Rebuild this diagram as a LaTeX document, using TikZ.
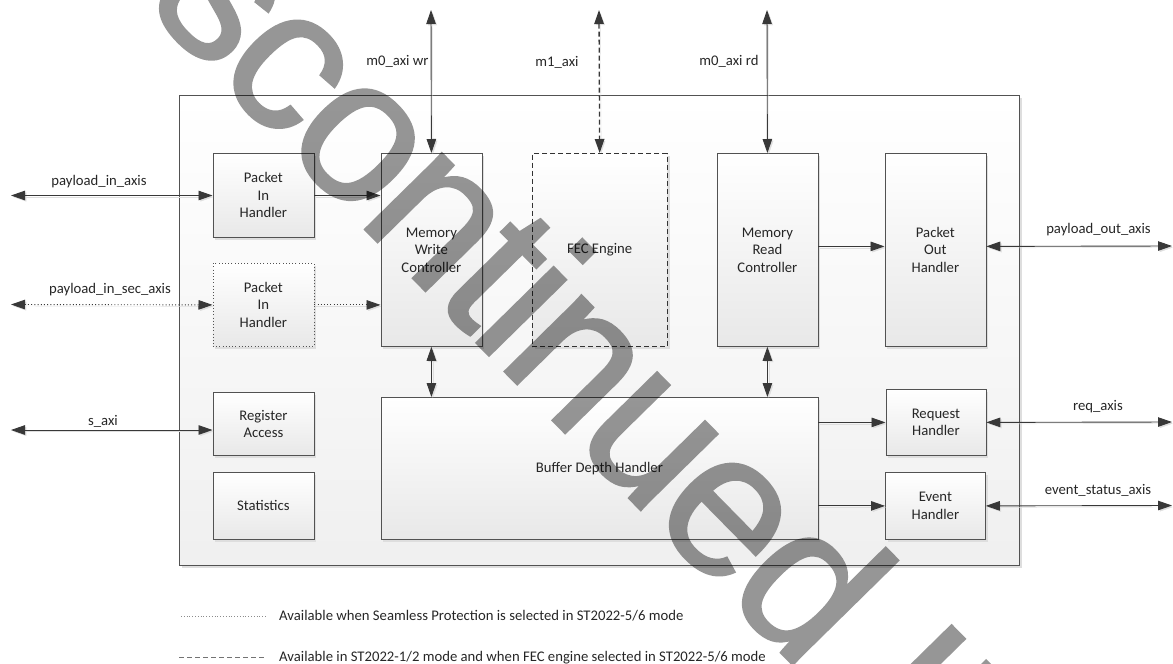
\documentclass[tikz,border=0pt]{standalone}
\usepackage{fontspec}
\setmainfont{Carlito}
\newfontfamily\wmfont[LetterSpace=-2.8,FakeBold=1]{Liberation Sans}
\usetikzlibrary{arrows.meta,shadows,calc}

\tikzset{
  >={Triangle[length=14pt,width=9.5pt]},
  lbl/.style={font=\fontsize{14.7}{17.5}\selectfont, text=black!85, inner sep=0pt},
  blk/.style={draw=black!68, line width=0.8pt, top color=white, bottom color=black!9,
    anchor=north west, inner sep=0pt, align=center,
    font=\fontsize{14.7}{17.5}\selectfont, text=black!85,
    drop shadow={shadow xshift=2.5pt, shadow yshift=-2.5pt, fill=black!13, opacity=1}},
  conn/.style={draw=black!78, line width=0.9pt,
    preaction={draw=black!13, transform canvas={shift={(1.5pt,-1.5pt)}}}},
  dotline/.style={dash pattern=on 1pt off 2.2pt},
  dashline/.style={dash pattern=on 5pt off 3pt, line width=1.3pt},
}

\begin{document}
\begin{tikzpicture}[x=1pt,y=-1pt]
\useasboundingbox (0,0) rectangle (1173,664);

% core outline
\node[blk, top color=white, bottom color=black!6, minimum width=840pt, minimum height=470pt] (core) at (179,95) {};

% left column
\node[blk, dotted, dash pattern=on 1pt off 2.2pt, minimum width=101pt, minimum height=83pt] (pihs) at (212.5,263) {Packet\\In\\Handler};
\node[blk, minimum width=101pt, minimum height=84pt] (pih) at (212.5,153) {Packet\\In\\Handler};
\node[blk, minimum width=101pt, minimum height=63pt] (reg) at (212.5,392) {Register\\Access};
\node[blk, minimum width=101pt, minimum height=67pt] (stat) at (212.5,472) {Statistics};

% memory controllers and FEC
\node[blk, minimum width=101pt, minimum height=193pt] (mwc) at (380.5,153) {Memory\\Write\\Controller};
\node[blk, dash pattern=on 5pt off 3pt, line width=1.3pt, draw=black!80, minimum width=135pt, minimum height=193pt] (fec) at (531.5,153) {FEC Engine};
\node[blk, minimum width=101pt, minimum height=193pt] (mrc) at (716.5,153) {Memory\\Read\\Controller};
\node[blk, minimum width=101pt, minimum height=193pt] (poh) at (884.5,153) {Packet\\Out\\Handler};

% buffer and handlers
\node[blk, minimum width=437pt, minimum height=142pt] (bdh) at (380.5,397) {Buffer Depth Handler};
\node[blk, minimum width=100pt, minimum height=66pt] (req) at (885.5,389) {Request\\Handler};
\node[blk, minimum width=100pt, minimum height=67pt] (evt) at (885,472) {Event\\Handler};

% external ends
\coordinate (pinA) at (11,195.5);
\coordinate (pinB) at (11,304.5);
\coordinate (sax) at (11,430);
\coordinate (mwr) at (431,10);
\coordinate (m1) at (599,10);
\coordinate (mrd) at (767,10);
\coordinate (pout) at (1172,246);
\coordinate (rq) at (1172,422);
\coordinate (ev) at (1172,505.5);

% connectors
\draw[conn,<->] (pinA) -- (pinA -| pih.west);
\draw[conn,->] (pinA -| pih.east) -- (pinA -| mwc.west);
\draw[conn,dotline,<->] (pinB) -- (pihs.west);
\draw[conn,dotline,->] (pihs.east) -- (pihs.east -| mwc.west);
\draw[conn,<->] (sax) -- (sax -| reg.west);
\draw[conn,<->] (mwr) -- (mwc.north);
\draw[conn,dashline,<->] (m1) -- (fec.north);
\draw[conn,<->] (mrd) -- (mrc.north);
\draw[conn,->] ([yshift=3.5pt]mrc.east) -- ([yshift=3.5pt]poh.west);
\draw[conn,<->] ([yshift=3.5pt]poh.east) -- (pout);
\draw[conn,<->] (mwc.south) -- (mwc.south |- bdh.north);
\draw[conn,<->] (mrc.south) -- (mrc.south |- bdh.north);
\draw[conn,->] (req.west -| bdh.east) -- (req.west);
\draw[conn,->] (evt.west -| bdh.east) -- (evt.west);
\draw[conn,<->] (req.east) -- (rq);
\draw[conn,<->] (evt.east) -- (ev);

% interface names
\node[lbl, anchor=base] (l1) at (99,185) {payload\_in\_axis};
\node[lbl, anchor=base] (l2) at (110,293) {payload\_in\_sec\_axis};
\node[lbl, anchor=base] (l3) at (103,425) {s\_axi};
\node[lbl, anchor=base] (l4) at (397.5,65) {m0\_axi wr};
\node[lbl, anchor=base] (l5) at (557,66) {m1\_axi};
\node[lbl, anchor=base] (l6) at (729,65) {m0\_axi rd};
\node[lbl, anchor=base] (l7) at (1098.5,233) {payload\_out\_axis};
\node[lbl, anchor=base] (l8) at (1098,410) {req\_axis};
\node[lbl, anchor=base] (l9) at (1098,494) {event\_status\_axis};

% legend
\coordinate (d1) at (181,616);
\coordinate (d2) at (266,616);
\coordinate (e1) at (179,657.5);
\coordinate (e2) at (266,657.5);
\draw[draw=black!45, line width=0.8pt, dash pattern=on 0.8pt off 2pt] (d1) -- (d2);
\draw[draw=black!55, line width=1.3pt, dash pattern=on 5pt off 3pt] (e1) -- (e2);
\node[lbl, anchor=base west] (t1) at (279,620) {Available when Seamless Protection is selected in ST2022-5/6 mode};
\node[lbl, anchor=base west] (t2) at (279,661.5) {Available in ST2022-1/2 mode and when FEC engine selected in ST2022-5/6 mode};

% status stamp across the page
\begin{scope}[transparency group, opacity=0.41]
\node[font=\wmfont\fontsize{205}{205}\selectfont, text=black,
  rotate=-45.5, anchor=base west, inner sep=0pt] (stamp) at (15.6,-126) {Discontinued IP};
\end{scope}
\end{tikzpicture}
\end{document}
